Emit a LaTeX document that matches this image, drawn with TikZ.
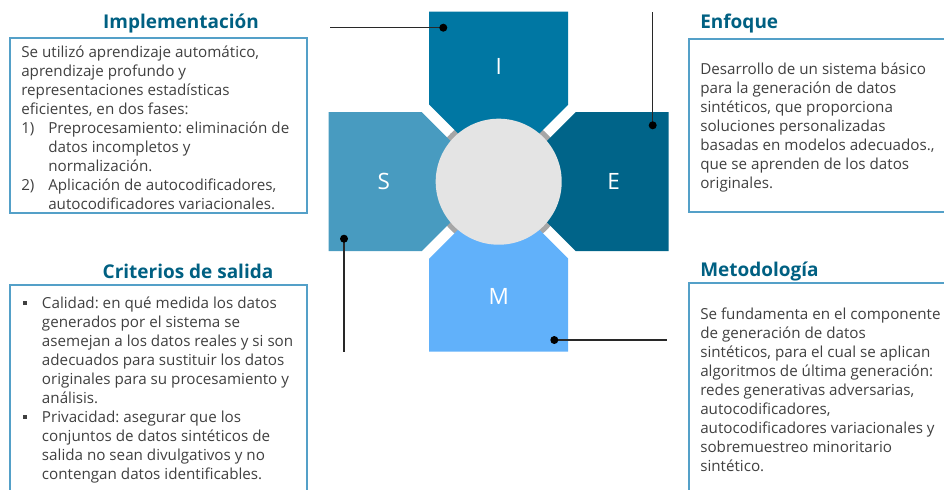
\documentclass[tikz,border=0pt]{standalone}
\usepackage{fontspec}
\setmainfont{Open Sans}
\usepackage{xcolor}
\usepackage{tikz}
\definecolor{armI}{RGB}{0,119,163}
\definecolor{armE}{RGB}{0,100,137}
\definecolor{armS}{RGB}{72,155,192}
\definecolor{armM}{RGB}{97,177,250}
\definecolor{hubfill}{RGB}{228,228,228}
\definecolor{ringgray}{RGB}{166,166,166}
\definecolor{titleblue}{RGB}{0,96,130}
\definecolor{framblue}{RGB}{84,160,200}
\definecolor{txtgray}{RGB}{64,64,64}
\definecolor{leadgray}{RGB}{40,40,40}
\def\numit#1{\makebox[0.675cm][l]{#1}}
\def\hang{\hspace*{0.675cm}}
\def\sqb{\makebox[0.475cm][l]{\rule[0.22em]{0.1cm}{0.1cm}}}

\begin{document}
\begin{tikzpicture}[x=0.025cm,y=-0.025cm,
	letter/.style={text=white,font=\fontsize{16}{19}\selectfont},
	title/.style={text=titleblue,font=\fontsize{13.5}{16}\selectfont\bfseries,inner sep=0},
	body/.style={text=txtgray,font=\fontsize{10.8}{13.5}\selectfont\frenchspacing,align=left,inner sep=0,anchor=north west},
	frame/.style={draw=framblue,line width=1pt},
	lead/.style={draw=leadgray,line width=0.9pt}]
	\useasboundingbox (0,0) rectangle (944,489);
	% hub and arms
	\fill[ringgray] (498.7,181.7) circle (1.7cm);
	\foreach \ang/\col/\lab in {90/armI/I,0/armE/E,180/armS/S,270/armM/M}{
		\begin{scope}[shift={(498.7,181.7)},rotate=\ang]
			\fill[\col] (170,-69.5)--(170,69.5)--(77,69.5)--(7.5,0)--(77,-69.5)--cycle;
			\node[letter] (arm\lab) at (115,0) {\lab};
		\end{scope}
	}
	\fill[hubfill] (498.7,181.7) circle (1.575cm);
	% frames
	\draw[frame] (10,38) rectangle (307,213);
	\draw[frame] (10,495) -- (10,285) -- (307,285) -- (307,495);
	\draw[frame] (950,39) -- (689,39) -- (689,212) -- (950,212);
	\draw[frame] (950,283) -- (689,283) -- (689,495);
	% titles
	\node[title] (titImpl) at (181,24) {Implementación};
	\node[title] (titCrit) at (188,271) {Criterios de salida};
	\node[title,anchor=west] (titEnf) at (700,24) {Enfoque};
	\node[title,anchor=west] (titMet) at (700,271) {Metodología};
	% texts
	\node[body] (txtImpl) at (21,45.5) {Se utilizó aprendizaje automático,\\
		aprendizaje profundo y\\
		representaciones estadísticas\\
		eficientes, en dos fases:\\
		\numit{1)}Preprocesamiento: eliminación de\\
		\hang datos incompletos y\\
		\hang normalización.\\
		\numit{2)}Aplicación de autocodificadores,\\
		\hang autocodificadores variacionales.};
	\node[body] (txtCrit) at (22.7,296.5) {\sqb Calidad: en qué medida los datos\\
		\hspace*{0.475cm}generados por el sistema se\\
		\hspace*{0.475cm}asemejan a los datos reales y si son\\
		\hspace*{0.475cm}adecuados para sustituir los datos\\
		\hspace*{0.475cm}originales para su procesamiento y\\
		\hspace*{0.475cm}análisis.\\
		\sqb Privacidad: asegurar que los\\
		\hspace*{0.475cm}conjuntos de datos sintéticos de\\
		\hspace*{0.475cm}salida no sean divulgativos y no\\
		\hspace*{0.475cm}contengan datos identificables.};
	\node[body] (txtEnf) at (700,63) {Desarrollo de un sistema básico\\
		para la generación de datos\\
		sintéticos, que proporciona\\
		soluciones personalizadas\\
		basadas en modelos adecuados.,\\
		que se aprenden de los datos\\
		originales.};
	\node[body] (txtMet) at (700,308) {Se fundamenta en el componente\\
		de generación de datos\\
		sintéticos, para el cual se aplican\\
		algoritmos de última generación:\\
		redes generativas adversarias,\\
		autocodificadores,\\
		autocodificadores variacionales y\\
		sobremuestreo minoritario\\
		sintético.};
	% leaders
	\coordinate (dotI) at (443.3,27.7);
	\coordinate (endI) at (330,27.7);
	\coordinate (dotE) at (652.7,125.3);
	\coordinate (endE) at (652.7,12);
	\coordinate (dotS) at (344,238.7);
	\coordinate (endS) at (344,351.7);
	\coordinate (dotM) at (554.3,340);
	\coordinate (endM) at (666.7,340);
	\draw[lead] (endI) -- (dotI);
	\draw[lead] (endE) -- (dotE);
	\draw[lead] (dotS) -- (endS);
	\draw[lead] (dotM) -- (endM);
	\foreach \d in {dotI,dotE,dotS,dotM}
		\fill[black] (\d) circle (0.1cm);
\end{tikzpicture}
\end{document}
